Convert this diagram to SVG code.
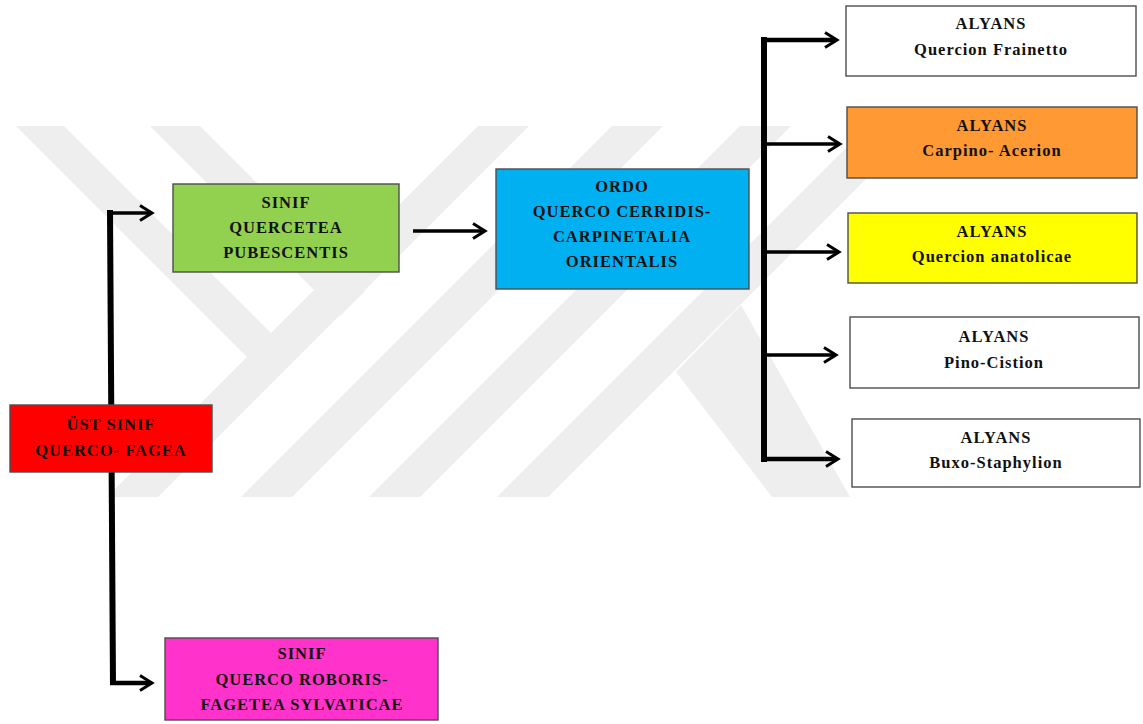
<svg xmlns="http://www.w3.org/2000/svg" width="1143" height="724" viewBox="0 0 1143 724">
  <defs>
    <style>
      .wm { fill: #eeeeee; }
      .bar { stroke: #000; stroke-width: 6; fill: none; }
      .arr { stroke: #000; stroke-width: 3.5; fill: none; marker-end: url(#chev); }
      .arrT { stroke: #000; stroke-width: 4.5; fill: none; marker-end: url(#chev); }
      .box { stroke: #4d4d4d; stroke-width: 1.4; }
      .lbl { font-family: "Liberation Serif", "Times New Roman", serif; font-size: 16.5px; font-weight: bold; letter-spacing: 1px; fill: #111; text-anchor: middle; }
    </style>
    <marker id="chev" markerUnits="userSpaceOnUse" viewBox="0 0 18 18" markerWidth="18" markerHeight="18" refX="12" refY="9" orient="auto">
      <path d="M2,1.5 L14,9 L2,16.5" fill="none" stroke="#000" stroke-width="3"/>
    </marker>
    <clipPath id="wmclip">
      <rect x="0" y="126" width="1143" height="371"/>
    </clipPath>
  </defs>

  <rect x="0" y="0" width="1143" height="724" fill="#ffffff"/>

  <g id="watermark" clip-path="url(#wmclip)">
    <polygon class="wm" points="16,126 64,126 296,358 272,382"/>
    <polygon class="wm" points="150,126 200,126 365,291 340,316"/>
    <polygon class="wm" points="478,126 529,126 158,497 107,497"/>
    <polygon class="wm" points="612,126 663,126 292,497 241,497"/>
    <polygon class="wm" points="740,126 791,126 420,497 369,497"/>
    <polygon class="wm" points="868,126 919,126 548,497 497,497"/>
    <polygon class="wm" points="741,305 850,497 772,497 676,372"/>
  </g>

  <g id="connectors">
    <line class="bar" x1="110" y1="210" x2="113" y2="685"/>
    <line class="arr" x1="108" y1="213" x2="150" y2="213"/>
    <line class="arrT" x1="110" y1="683" x2="150" y2="683"/>
    <line class="arr" x1="413" y1="231" x2="483" y2="231"/>
    <line class="bar" x1="764" y1="37" x2="764" y2="462"/>
    <line class="arrT" x1="762" y1="40" x2="835" y2="40"/>
    <line class="arr" x1="764" y1="144" x2="838" y2="144"/>
    <line class="arr" x1="764" y1="252" x2="837" y2="252"/>
    <line class="arr" x1="764" y1="355" x2="834" y2="355"/>
    <line class="arrT" x1="762" y1="459" x2="836" y2="459"/>
  </g>

  <g id="ust-sinif">
    <rect class="box" x="10" y="405" width="202" height="67" fill="#ff0000"/>
    <text class="lbl" x="111" y="430">ÜST SINIF</text>
    <text class="lbl" x="111" y="456">QUERCO- FAGEA</text>
  </g>

  <g id="sinif-quercetea">
    <rect class="box" x="173" y="184" width="226" height="88" fill="#92d050"/>
    <text class="lbl" x="286" y="208">SINIF</text>
    <text class="lbl" x="286" y="233">QUERCETEA</text>
    <text class="lbl" x="286" y="258">PUBESCENTIS</text>
  </g>

  <g id="sinif-querco-roboris">
    <rect class="box" x="165" y="638" width="273" height="82" fill="#ff33cc"/>
    <text class="lbl" x="302" y="659">SINIF</text>
    <text class="lbl" x="302" y="685">QUERCO ROBORIS-</text>
    <text class="lbl" x="302" y="710">FAGETEA SYLVATICAE</text>
  </g>

  <g id="ordo">
    <rect class="box" x="496" y="169" width="253" height="120" fill="#00b0f0"/>
    <text class="lbl" x="622" y="192">ORDO</text>
    <text class="lbl" x="622" y="217">QUERCO CERRIDIS-</text>
    <text class="lbl" x="622" y="242">CARPINETALIA</text>
    <text class="lbl" x="622" y="267">ORIENTALIS</text>
  </g>

  <g id="alyans-frainetto">
    <rect class="box" x="846" y="6" width="290" height="70" fill="#ffffff"/>
    <text class="lbl" x="991" y="29">ALYANS</text>
    <text class="lbl" x="991" y="55">Quercion Frainetto</text>
  </g>

  <g id="alyans-carpino">
    <rect class="box" x="847" y="107" width="290" height="71" fill="#ff9933"/>
    <text class="lbl" x="992" y="131">ALYANS</text>
    <text class="lbl" x="992" y="156">Carpino- Acerion</text>
  </g>

  <g id="alyans-anatolicae">
    <rect class="box" x="848" y="213" width="289" height="70" fill="#ffff00"/>
    <text class="lbl" x="992" y="237">ALYANS</text>
    <text class="lbl" x="992" y="262">Quercion anatolicae</text>
  </g>

  <g id="alyans-pino">
    <rect class="box" x="850" y="317" width="289" height="71" fill="#ffffff"/>
    <text class="lbl" x="994" y="342">ALYANS</text>
    <text class="lbl" x="994" y="368">Pino-Cistion</text>
  </g>

  <g id="alyans-buxo">
    <rect class="box" x="852" y="419" width="288" height="68" fill="#ffffff"/>
    <text class="lbl" x="996" y="443">ALYANS</text>
    <text class="lbl" x="996" y="468">Buxo-Staphylion</text>
  </g>
</svg>
